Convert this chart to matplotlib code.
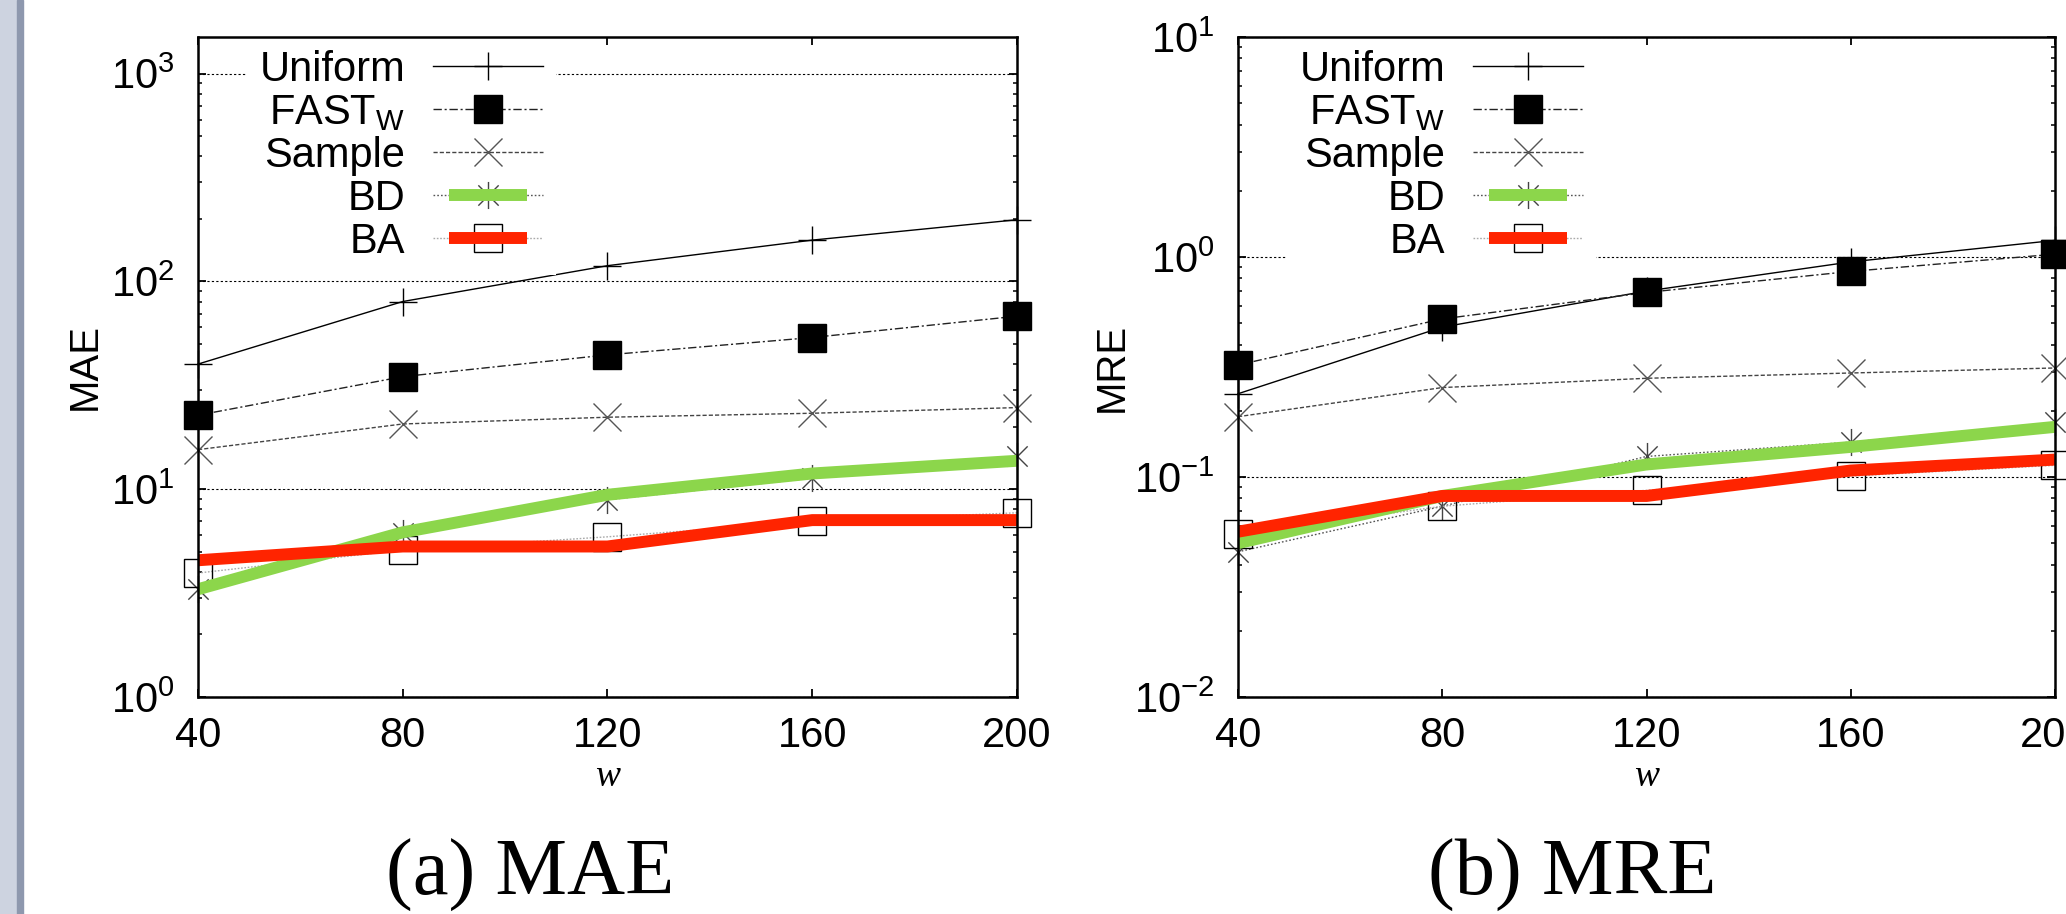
import numpy as np
import matplotlib
matplotlib.use('Agg')
import matplotlib.pyplot as plt
from matplotlib.path import Path
from matplotlib.patches import Rectangle
from matplotlib.legend_handler import HandlerLine2D, HandlerTuple
from matplotlib.ticker import LogLocator, LogFormatterSciNotation, NullFormatter, FixedLocator, NullLocator

plt.rcParams['font.family'] = ['Liberation Sans', 'DejaVu Sans']
plt.rcParams['mathtext.fontset'] = 'custom'
plt.rcParams['mathtext.rm'] = 'Liberation Sans'
plt.rcParams['mathtext.it'] = 'Liberation Sans:italic'
plt.rcParams['mathtext.bf'] = 'Liberation Sans:bold'
plt.rcParams['mathtext.default'] = 'regular'

# ---------------- data ----------------
w = [40, 80, 120, 160, 200]
series_names = ['Uniform', 'FAST$_{\\mathrm{W}}$', 'Sample', 'BD', 'BA']

mae_uniform = [40, 80, 119, 158, 198]
mae_fast = [22.7, 34.8, 44.3, 53.7, 68.0]
mae_sample = [15.5, 20.6, 22.2, 23.2, 24.7]
mae_bd = [3.3, 6.15, 8.9, 11.3, 14.4]
mae_ba = [3.95, 5.1, 5.9, 7.0, 7.7]
mae_bd_line = [3.3, 6.2, 9.4, 11.9, 13.7]
mae_ba_line = [4.55, 5.3, 5.3, 7.1, 7.1]

mre_uniform = [0.239, 0.48, 0.70, 0.95, 1.19]
mre_fast = [0.323, 0.523, 0.69, 0.86, 1.03]
mre_sample = [0.188, 0.255, 0.281, 0.297, 0.313]
mre_bd = [0.0457, 0.0736, 0.124, 0.144, 0.177]
mre_ba = [0.055, 0.0736, 0.087, 0.101, 0.113]
mre_bd_line = [0.050, 0.082, 0.114, 0.137, 0.169]
mre_ba_line = [0.0564, 0.082, 0.082, 0.107, 0.120]

x_ticks = [40, 80, 120, 160, 200]
captions = ['(a) MAE', '(b) MRE']
ylabels = ['MAE', 'MRE']

# ---------------- style ----------------
GREEN = '#8CD64B'
RED = '#FF2400'
W_PX, H_PX = 2066, 914

asterisk = Path([(0, -1), (0, 1), (-0.75, -0.75), (0.75, 0.75), (-0.75, 0.75), (0.75, -0.75)],
                [Path.MOVETO, Path.LINETO] * 3)


class ShortBar(HandlerLine2D):
    def create_artists(self, legend, orig_handle, xdescent, ydescent, width, height, fontsize, trans):
        arts = super().create_artists(legend, orig_handle, xdescent, ydescent, width, height, fontsize, trans)
        for a in arts:
            xd = np.asarray(a.get_xdata(), float)
            c = (xd.min() + xd.max()) / 2 + 0.01 * width
            a.set_xdata(c + (xd - c) * 0.71)
        return arts


fig = plt.figure(figsize=(W_PX / 100, H_PX / 100), dpi=100)

# window strip on the left
fig.add_artist(Rectangle((0, 0), 17 / W_PX, 1, transform=fig.transFigure, color='#CDD3E0', zorder=0))
fig.add_artist(Rectangle((17 / W_PX, 0), 6 / W_PX, 1, transform=fig.transFigure, color='#8E98AE', zorder=0))

ax_bottom = (H_PX - 697) / H_PX
ax_height = 660 / H_PX
axes_specs = [
    (198 / W_PX, 819 / W_PX, (1, 1500), mae_uniform, mae_fast, mae_sample, mae_bd, mae_ba, mae_bd_line, mae_ba_line, -0.138, 530),
    (1238 / W_PX, 817 / W_PX, (0.01, 10), mre_uniform, mre_fast, mre_sample, mre_bd, mre_ba, mre_bd_line, mre_ba_line, -0.154, 1572),
]

for i, (x0, wd, ylim, u, f, s, bd, ba, bdl, bal, ylab_x, cap_x) in enumerate(axes_specs):
    ax = fig.add_axes([x0, ax_bottom, wd, ax_height])
    ax.set_yscale('log')
    ax.set_xlim(40, 200)
    ax.set_ylim(*ylim)

    l_u, = ax.plot(w, u, color='black', lw=1.0, ls='-', marker='+', ms=19.5, mew=1.0,
                   clip_on=False, zorder=3)
    l_f, = ax.plot(w, f, color='#222222', lw=1.0, ls=(0, (6, 2, 1.5, 2)), marker='s', ms=19.5,
                   mfc='black', mec='black', mew=1.0, clip_on=False, zorder=3)
    l_s, = ax.plot(w, s, color='#444444', lw=1.0, ls=(0, (3, 1.5)), marker='x', ms=19.5, mew=1.0,
                   mec='#555555', clip_on=False, zorder=3)
    l_bd, = ax.plot(w, bd, color='#555555', lw=1.0, ls=(0, (1.2, 1.5)), marker=asterisk, ms=19.5, mew=1.0,
                    mec='#444444', clip_on=False, zorder=3)
    l_ba, = ax.plot(w, ba, color='#AAAAAA', lw=1.0, ls=(0, (1.2, 1.2)), marker='s', ms=19.5, mew=1.0,
                    mfc='none', mec='black', clip_on=False, zorder=3)
    g_line, = ax.plot(w, bdl, color=GREEN, lw=8.6, solid_capstyle='butt', zorder=4)
    r_line, = ax.plot(w, bal, color=RED, lw=8.6, solid_capstyle='butt', zorder=5)

    ax.yaxis.set_major_locator(LogLocator(base=10, numticks=10))
    ax.yaxis.set_major_formatter(LogFormatterSciNotation())
    ax.yaxis.set_minor_locator(LogLocator(base=10, subs=np.arange(2, 10), numticks=20))
    ax.yaxis.set_minor_formatter(NullFormatter())
    ax.xaxis.set_major_locator(FixedLocator(x_ticks))
    ax.xaxis.set_minor_locator(NullLocator())

    ax.tick_params(which='both', direction='in', top=True, right=True, colors='black')
    ax.tick_params(which='major', length=5.8, width=1.3, labelsize=30)
    ax.tick_params(which='minor', length=3.2, width=1.1)
    ax.tick_params(axis='x', which='major', pad=14)
    ax.tick_params(axis='y', which='major', pad=17)
    for sp in ax.spines.values():
        sp.set_linewidth(1.8)
        sp.set_zorder(6)

    ax.yaxis.grid(True, which='major', color='black', lw=0.8, ls=(0, (2, 2)))
    ax.set_axisbelow(True)

    ax.set_ylabel(ylabels[i], fontsize=29)
    ax.yaxis.label.set_va('center')
    ax.yaxis.set_label_coords(ylab_x, 0.5)
    ax.set_xlabel('w', fontsize=27, family='Liberation Serif', style='italic')
    ax.xaxis.label.set_va('center')
    ax.xaxis.set_label_coords(0.5, -0.121)

    handles = [l_u, l_f, l_s, (l_bd, g_line), (l_ba, r_line)]
    leg = ax.legend(handles, series_names, loc='upper right',
                    bbox_to_anchor=(358 / (wd * W_PX), 1.0),
                    borderaxespad=0, fontsize=30, markerfirst=False, numpoints=1,
                    handlelength=2.64, handletextpad=0.67, borderpad=0.31,
                    labelspacing=0.07, frameon=True, fancybox=False,
                    facecolor='white', edgecolor='none', framealpha=1,
                    handler_map={g_line: ShortBar(), r_line: ShortBar(), tuple: HandlerTuple(ndivide=1)})
    leg.set_zorder(5.5)

    fig.text(cap_x / W_PX, (H_PX - 895) / H_PX, captions[i], fontsize=58,
             family='Liberation Serif', ha='center', va='baseline')

fig.savefig('out.png', dpi=100)
